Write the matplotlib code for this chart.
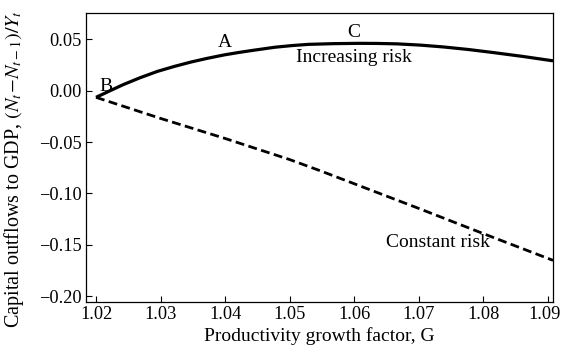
import matplotlib
matplotlib.use("Agg")
import matplotlib.pyplot as plt
import matplotlib.transforms as mtransforms

plt.rcParams['font.family'] = ['Liberation Serif', 'DejaVu Serif']
plt.rcParams['mathtext.fontset'] = 'stix'

G_inc = [1.0200, 1.0221, 1.0242, 1.0268, 1.0295, 1.0321, 1.0347, 1.0373, 1.0399, 1.0420, 1.0441,
         1.0477, 1.0503, 1.0529, 1.0568, 1.0607, 1.0636, 1.0666, 1.0702, 1.0738, 1.0777, 1.0816, 1.0862, 1.0908]
Y_inc = [-0.0065, -0.0003, 0.0058, 0.0125, 0.0187, 0.0235, 0.0278, 0.0315, 0.0348, 0.0370, 0.0390,
         0.0422, 0.0438, 0.0450, 0.0457, 0.0460, 0.0459, 0.0455, 0.0443, 0.0425, 0.0400, 0.0370, 0.0332, 0.0290]

G_const = [1.0200, 1.0300, 1.0400, 1.0500, 1.0547, 1.0600, 1.0700, 1.0800, 1.0908]
Y_const = [-0.0065, -0.0270, -0.0465, -0.0670, -0.0778, -0.0905, -0.1145, -0.1390, -0.1650]

xticks = [1.02, 1.03, 1.04, 1.05, 1.06, 1.07, 1.08, 1.09]
yticks = [0.05, 0.00, -0.05, -0.10, -0.15, -0.20]

fig = plt.figure(figsize=(5.62, 3.52), dpi=100)
ax = fig.add_axes([86/562, 1 - 302/352, (553-86)/562, (302-13)/352])

ax.plot(G_inc, Y_inc, color='black', lw=2.3, solid_capstyle='butt', solid_joinstyle='round')
ax.plot(G_const, Y_const, color='black', lw=2.0, linestyle=(0, (3.2, 1.6)))

ax.set_xlim(1.01845, 1.0908)
ax.set_ylim(-0.2055, 0.0755)
ax.set_xticks(xticks)
ax.set_xticklabels([f"{v:.2f}" for v in xticks])
ax.set_yticks(yticks)
ax.set_yticklabels([f"{v:.2f}".replace('-', '\u2212') for v in yticks])
fs = 14
ax.tick_params(direction='in', length=4, width=0.8, labelsize=13.2, colors='black', pad=3)
for s in ax.spines.values():
    s.set_linewidth(0.9)

last = ax.get_xticklabels()[-1]
last.set_transform(last.get_transform() + mtransforms.ScaledTranslation(-3/100, 0, fig.dpi_scale_trans))

ax.text(1.0215, 0.0040, 'B', fontsize=fs, ha='center', va='center')
ax.text(1.0400, 0.0468, 'A', fontsize=fs, ha='center', va='center')
ax.text(1.0600, 0.0565, 'C', fontsize=fs, ha='center', va='center')
ax.text(1.0600, 0.0325, 'Increasing risk', fontsize=fs, ha='center', va='center')
ax.text(1.0730, -0.1480, 'Constant risk', fontsize=fs, ha='center', va='center')

ax.set_xlabel('Productivity growth factor, G', fontsize=fs, labelpad=3)
ax.set_ylabel(r'Capital outflows to GDP, $(N_t\!-\!N_{t-1})/Y_t$', fontsize=14.5)
ax.yaxis.set_label_coords(-0.128, 0.46)

fig.savefig('out.png', dpi=100)
